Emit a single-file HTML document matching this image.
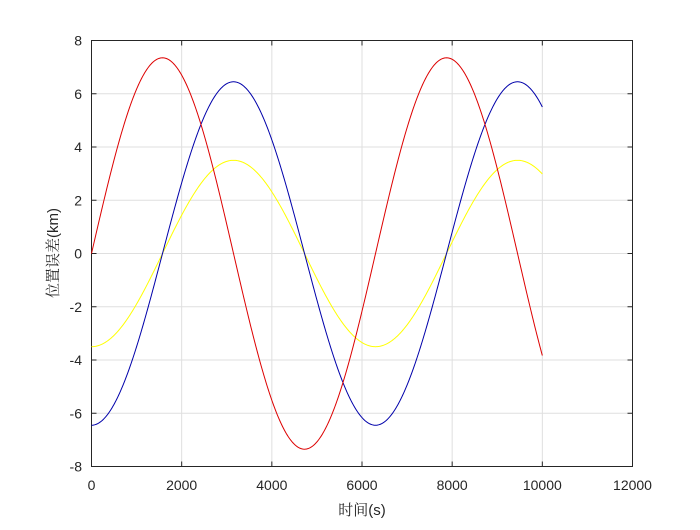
<!DOCTYPE html>
<html><head><meta charset="utf-8"><style>
html,body{margin:0;padding:0;background:#fff;}
svg text{font-family:"Liberation Sans",sans-serif;font-size:14px;fill:#262626;}
</style></head><body>
<svg id="s" width="700" height="525" xmlns="http://www.w3.org/2000/svg">
<rect x="0" y="0" width="700" height="525" fill="#fff"/>
<g id="grid" stroke="#dfdfdf" stroke-width="1"></g>
<rect x="91.5" y="40.5" width="541" height="426" fill="none" stroke="#262626" stroke-width="1"/>
<g id="ticks" stroke="#262626" stroke-width="1"></g>
<g id="labels"></g>
<path id="yel" fill="none" stroke="#ffff00" stroke-width="1"/>
<path id="blu" fill="none" stroke="#0000aa" stroke-width="1"/>
<path id="red" fill="none" stroke="#dd0000" stroke-width="1"/>
<text x="362" y="515" text-anchor="middle" style="font-family:'Liberation Sans','Noto Serif CJK SC',sans-serif;font-size:15px">时间(s)</text>
<text transform="translate(58,253) rotate(-90)" text-anchor="middle" style="font-family:'Liberation Sans','Noto Serif CJK SC',sans-serif;font-size:15px">位置误差(km)</text>
</svg>
<script>
var X0=91.5,X1=632.5,Y0=466.5,Y1=40.5;
function px(t){return X0+(X1-X0)*t/12000;}
function py(v){return Y0-(Y0-Y1)*(v+8)/16;}
var g=document.getElementById('grid'),tk=document.getElementById('ticks'),lb=document.getElementById('labels');
var h='',k='',l='';
for(var i=0;i<=6;i++){var x=px(i*2000);h+='<line x1="'+x+'" y1="'+Y1+'" x2="'+x+'" y2="'+Y0+'"/>';
k+='<line x1="'+x+'" y1="'+Y0+'" x2="'+x+'" y2="'+(Y0-5)+'"/><line x1="'+x+'" y1="'+Y1+'" x2="'+x+'" y2="'+(Y1+5)+'"/>';
l+='<text x="'+x+'" y="490" text-anchor="middle">'+(i*2000)+'</text>';}
for(var j=-8;j<=8;j+=2){var y=py(j);h+='<line x1="'+X0+'" y1="'+y+'" x2="'+X1+'" y2="'+y+'"/>';
k+='<line x1="'+X0+'" y1="'+y+'" x2="'+(X0+5)+'" y2="'+y+'"/><line x1="'+X1+'" y1="'+y+'" x2="'+(X1-5)+'" y2="'+y+'"/>';
l+='<text x="82" y="'+(y+5)+'" text-anchor="end">'+j+'</text>';}
g.innerHTML=h;tk.innerHTML=k;lb.innerHTML=l;
var T=6300;
function path(f){var d='';for(var t=0;t<=10000;t+=20){d+=(t?'L':'M')+px(t).toFixed(2)+','+py(f(t)).toFixed(2);}return d;}
document.getElementById('red').setAttribute('d',path(function(t){return 7.35*Math.sin(2*Math.PI*t/T);}));
document.getElementById('blu').setAttribute('d',path(function(t){return -6.45*Math.cos(2*Math.PI*t/T);}));
document.getElementById('yel').setAttribute('d',path(function(t){return -3.5*Math.cos(2*Math.PI*t/T);}));
</script>
</body></html>
